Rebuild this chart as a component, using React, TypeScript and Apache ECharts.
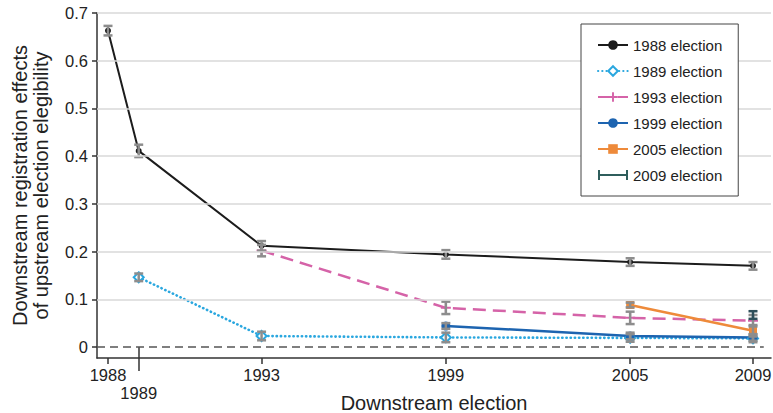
import React, { useEffect, useRef } from "react";
import * as echarts from "echarts";

const years = [1988, 1989, 1993, 1999, 2005, 2009];
const xTickValues = [1988, 1993, 1999, 2005, 2009];
const xTickLower = [1989];
const yTickValues = [0, 0.1, 0.2, 0.3, 0.4, 0.5, 0.6, 0.7];

const seriesNames = ["1988 election", "1989 election", "1993 election", "1999 election", "2005 election", "2009 election"];

const v1988 = [0.663, 0.411, 0.212, 0.194, 0.178, 0.170];
const e1988 = [0.010, 0.013, 0.010, 0.009, 0.008, 0.008];
const v1989 = [null, 0.146, 0.023, 0.020, 0.019, 0.018];
const e1989 = [null, 0.008, 0.009, 0.010, 0.008, 0.008];
const v1993 = [null, null, 0.202, 0.082, 0.061, 0.055];
const e1993 = [null, null, 0.012, 0.013, 0.013, 0.012];
const v1999 = [null, null, null, 0.044, 0.023, 0.020];
const e1999 = [null, null, null, 0.006, 0.007, 0.007];
const v2005 = [null, null, null, null, 0.088, 0.034];
const e2005 = [null, null, null, null, 0.005, 0.012];
const v2009 = [null, null, null, null, null, 0.067];
const e2009 = [null, null, null, null, null, 0.008];

const values = [v1988, v1989, v1993, v1999, v2005, v2009];
const errors = [e1988, e1989, e1993, e1999, e2005, e2009];

const colors = ["#1c1c1c", "#2aa7df", "#d563a8", "#1d64b0", "#ee8a3a", "#2f5e5c"];
const errColors = ["#8d8d8d", "#8d8d8d", "#8d8d8d", "#8d8d8d", "#8d8d8d", "#2f4f5a"];

const FONT = "'Liberation Sans', Arial, Helvetica, sans-serif";
const PLUS = "path://M4,0 H6 V4 H10 V6 H6 V10 H4 V6 H0 V4 H4 Z";
const IBEAM = "path://M0,0 H2 V4 H28 V0 H30 V10 H28 V6 H2 V10 H0 Z";

const X_MIN = 1987.642;
const X_MAX = 2009.586;
const Y_MIN = -0.0231;

export default function App() {
  const ref = useRef<HTMLDivElement>(null);
  useEffect(() => {
    if (!ref.current) return;
    const chart = echarts.init(ref.current, null, { renderer: "svg" });

    const lineStyles: any[] = [
      { width: 2, type: "solid" },
      { width: 2.6, type: [0.3, 3.9], cap: "round" },
      { width: 2.5, type: [13, 7] },
      { width: 2.5, type: "solid" },
      { width: 2.5, type: "solid" },
      { width: 2.5, type: "solid" },
    ];
    const symbols = ["circle", "emptyDiamond", PLUS, "circle", "rect", "none"];
    const symbolSizes = [6, 10, 10, 9, 8, 1];

    const lineSeries = seriesNames.map((name, k) => ({
      name,
      type: "line",
      z: 3,
      data: years
        .map((y, i) => (values[k][i] == null ? null : [y, values[k][i]]))
        .filter((d) => d !== null),
      symbol: symbols[k],
      symbolSize: symbolSizes[k],
      showSymbol: true,
      lineStyle: { color: colors[k], ...lineStyles[k] },
      itemStyle: { color: colors[k], borderColor: colors[k], borderWidth: k === 1 ? 2 : 0 },
      emphasis: { disabled: true },
    }));

    const errSeries = seriesNames.map((name, k) => ({
      name: "err " + name,
      type: "custom",
      z: 4,
      silent: true,
      data: years
        .map((y, i) =>
          values[k][i] == null ? null : [y, (values[k][i] as number) - (errors[k][i] as number), (values[k][i] as number) + (errors[k][i] as number)]
        )
        .filter((d) => d !== null),
      renderItem: (params: any, api: any) => {
        const x = api.value(0);
        const lo = api.coord([x, api.value(1)]);
        const hi = api.coord([x, api.value(2)]);
        const w = 4.5;
        const style = { stroke: errColors[k], lineWidth: 2.5 };
        return {
          type: "group",
          children: [
            { type: "line", shape: { x1: lo[0], y1: lo[1], x2: hi[0], y2: hi[1] }, style },
            { type: "line", shape: { x1: lo[0] - w, y1: lo[1], x2: lo[0] + w, y2: lo[1] }, style },
            { type: "line", shape: { x1: hi[0] - w, y1: hi[1], x2: hi[0] + w, y2: hi[1] }, style },
          ],
        };
      },
    }));

    const refSeries = {
      name: "reference",
      type: "line",
      z: 1,
      data: [],
      silent: true,
      markLine: {
        silent: true,
        symbol: "none",
        label: { show: false },
        animation: false,
        data: [
          ...yTickValues.slice(1).map((v) => [
            { coord: [X_MIN, v], lineStyle: { color: "#d9d9d9", width: 1.5, type: "solid" } },
            { coord: [X_MAX, v] },
          ]),
          [
            { coord: [X_MIN, 0], lineStyle: { color: "#555555", width: 1.5, type: [8, 5] } },
            { coord: [2009.35, 0] },
          ],
        ],
      },
    };

    const option: any = {
      animation: false,
      backgroundColor: "#ffffff",
      textStyle: { fontFamily: FONT },
      grid: { left: 97, right: 2, top: 13, bottom: 55, containLabel: false, outerBoundsMode: "none" },
      legend: {
        orient: "vertical",
        left: 581,
        top: 24,
        data: seriesNames.map((n, k) => (k === 5 ? { name: n, icon: IBEAM } : { name: n })),
        backgroundColor: "#ffffff",
        borderColor: "#444444",
        borderWidth: 1,
        borderRadius: 0,
        padding: [13, 16, 13, 16],
        itemWidth: 30,
        itemHeight: 12,
        itemGap: 10,
        textStyle: { fontSize: 15, lineHeight: 16, color: "#222222", fontFamily: FONT },
        selectedMode: false,
        z: 10,
      },
      xAxis: [
        {
          type: "value",
          min: X_MIN,
          max: X_MAX,
          position: "bottom",
          name: "Downstream election",
          nameLocation: "middle",
          nameGap: 35,
          nameTextStyle: { fontSize: 20, color: "#222222", fontFamily: FONT },
          axisLine: { show: true, onZero: false, lineStyle: { color: "#333333", width: 1.5 } },
          axisTick: { show: true, length: 6, customValues: xTickValues, lineStyle: { color: "#333333", width: 1.5 } },
          axisLabel: {
            show: true,
            customValues: xTickValues,
            margin: 8,
            fontSize: 16.5,
            color: "#222222",
            fontFamily: FONT,
            formatter: (v: number) => String(v),
          },
          splitLine: { show: false },
        },
        {
          type: "value",
          min: X_MIN,
          max: X_MAX,
          position: "bottom",
          offset: 0,
          axisLine: { show: false },
          axisTick: { show: true, length: 24, customValues: xTickLower, lineStyle: { color: "#333333", width: 1.5 } },
          axisLabel: {
            show: true,
            customValues: xTickLower,
            margin: 26,
            fontSize: 16.5,
            color: "#222222",
            fontFamily: FONT,
            formatter: (v: number) => String(v),
          },
          splitLine: { show: false },
        },
      ],
      yAxis: {
        type: "value",
        min: Y_MIN,
        max: 0.7,
        name: "Downstream registration effects\nof upstream election elegibility",
        nameLocation: "middle",
        nameGap: 46,
        nameTextStyle: { fontSize: 20, lineHeight: 21, color: "#222222", fontFamily: FONT },
        axisLine: { show: true, onZero: false, lineStyle: { color: "#333333", width: 1.5 } },
        axisTick: { show: true, length: 5, customValues: yTickValues, lineStyle: { color: "#333333", width: 1.5 } },
        axisLabel: {
          show: true,
          customValues: yTickValues,
          margin: 9,
          fontSize: 16.5,
          color: "#222222",
          fontFamily: FONT,
          formatter: (v: number) => String(v),
        },
        splitLine: { show: false },
      },
      series: [refSeries, ...lineSeries, ...errSeries],
    };

    chart.setOption(option);
    return () => chart.dispose();
  }, []);

  return (
    <div
      ref={ref}
      style={{ position: "fixed", left: 0, top: 0, width: 773, height: 413, background: "#fff" }}
    />
  );
}
